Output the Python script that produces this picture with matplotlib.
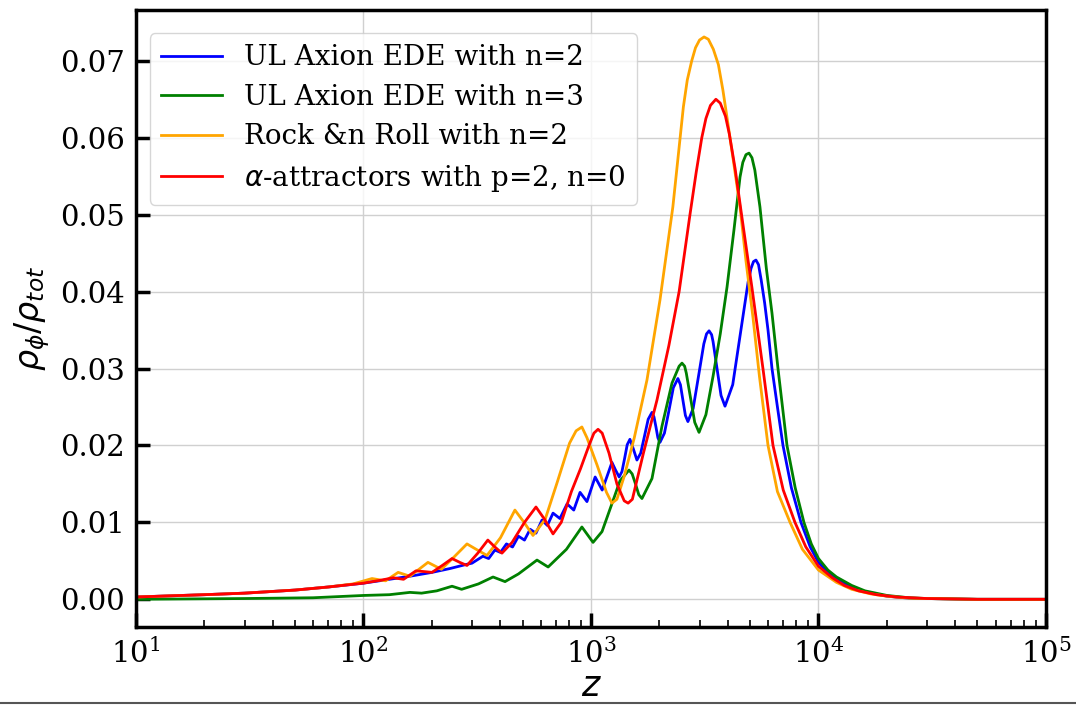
import numpy as np
import matplotlib
matplotlib.use("Agg")
import matplotlib.pyplot as plt
from matplotlib.lines import Line2D

# UL Axion EDE, n=2
z_ax2 = [10, 20, 30, 50, 70, 100, 130, 160, 200, 240, 280, 300,
         335, 355, 378, 400, 425, 452, 480, 510, 540, 573, 609, 643,
         681, 730, 785, 840, 895, 960, 1043, 1120, 1177, 1236, 1282, 1330,
         1368, 1405, 1443, 1483, 1537, 1592, 1654, 1718, 1784, 1854, 1892,
         1930, 1968, 2010, 2103, 2200, 2301, 2410, 2472, 2535, 2600, 2667,
         2812, 2969, 3133, 3220, 3304, 3390, 3440, 3581, 3729, 3882, 4198,
         4539, 4909, 5050, 5180, 5310, 5450, 5600, 5800, 6000, 6246, 6600,
         6982, 7600, 8375, 9200, 10000, 11000, 12000, 14000, 16000, 20000,
         25000, 30000, 50000, 100000]
y_ax2 = [0.0003, 0.0006, 0.0008, 0.0012, 0.0016, 0.0021, 0.0026, 0.0030, 0.0035, 0.0040, 0.0045, 0.0047,
         0.0056, 0.0053, 0.0064, 0.0061, 0.0072, 0.0068, 0.0082, 0.0077, 0.0091, 0.0086, 0.0103, 0.0096,
         0.0112, 0.0105, 0.0124, 0.0116, 0.0139, 0.0127, 0.0159, 0.0142, 0.0160, 0.0178, 0.0168, 0.0159,
         0.0166, 0.0183, 0.0201, 0.0208, 0.0195, 0.0181, 0.0190, 0.0212, 0.0234, 0.0243, 0.0237,
         0.0224, 0.0210, 0.0204, 0.0216, 0.0245, 0.0275, 0.0287, 0.0279, 0.0259, 0.0239, 0.0231,
         0.0248, 0.0290, 0.0332, 0.0345, 0.0349, 0.0344, 0.0335, 0.0300, 0.0265, 0.0251, 0.0279,
         0.0346, 0.0413, 0.0430, 0.0439, 0.0441, 0.0435, 0.0415, 0.0385, 0.0350, 0.0300, 0.0250,
         0.0200, 0.0145, 0.0100, 0.0068, 0.0048, 0.0035, 0.0027, 0.0016, 0.0010, 0.0004,
         0.00015, 0.0001, 0.0, 0.0]

# UL Axion EDE, n=3
z_ax3 = [10, 30, 60, 100, 130, 160, 180, 210, 245, 270, 320, 371, 419, 480,
         579, 648, 780, 912, 965, 1021, 1118, 1225, 1341, 1469, 1517, 1569,
         1622, 1675, 1854, 2051, 2270, 2440, 2512, 2580, 2624, 2738, 2858,
         2985, 3200, 3440, 3700, 3963, 4250, 4520, 4650, 4800, 4950, 5100,
         5250, 5530, 5900, 6246, 6637, 7270, 7900, 8630, 9300, 10000, 11000,
         12000, 14000, 16000, 20000, 25000, 30000, 50000, 100000]
y_ax3 = [0.0, 0.0001, 0.0002, 0.0005, 0.0006, 0.0009, 0.0008, 0.0011, 0.0017, 0.0013, 0.0020, 0.0029, 0.0023, 0.0033,
         0.0051, 0.0042, 0.0065, 0.0094, 0.0084, 0.0074, 0.0088, 0.0121, 0.0154, 0.0168, 0.0163, 0.0150,
         0.0136, 0.0131, 0.0157, 0.0225, 0.0281, 0.0303, 0.0307, 0.0303, 0.0294, 0.0262, 0.0230,
         0.0217, 0.0240, 0.0290, 0.0345, 0.0406, 0.0480, 0.0549, 0.0568, 0.0578, 0.0580, 0.0574,
         0.0558, 0.0510, 0.0430, 0.0372, 0.0300, 0.0200, 0.0145, 0.0100, 0.0072, 0.0053, 0.0038,
         0.0029, 0.0018, 0.0011, 0.0005, 0.0002, 0.0001, 0.0, 0.0]

# Rock 'n' Roll, n=2
z_rnr = [10, 20, 30, 50, 70, 90, 109, 125, 142, 160, 192, 220, 250, 285, 317, 349,
         400, 463, 508, 556, 629, 712, 805, 860, 912, 960, 1062, 1170, 1236,
         1300, 1400, 1550, 1762, 2010, 2290, 2547, 2650, 2772, 2880, 3000,
         3140, 3280, 3450, 3631, 3800, 3945, 4250, 4520, 4800, 5150, 5500,
         6000, 6600, 7500, 8500, 10000, 12000, 14000, 17000, 20000, 25000,
         30000, 50000, 100000]
y_rnr = [0.0003, 0.0006, 0.0008, 0.0012, 0.0016, 0.0020, 0.0027, 0.0024, 0.0035, 0.0030, 0.0048, 0.0039, 0.0055, 0.0072, 0.0064, 0.0057,
         0.0080, 0.0116, 0.0100, 0.0083, 0.0104, 0.0153, 0.0203, 0.0219, 0.0224, 0.0210, 0.0175, 0.0139, 0.0125,
         0.0130, 0.0160, 0.0210, 0.0285, 0.0389, 0.0510, 0.0640, 0.0675, 0.0700, 0.0717, 0.0727,
         0.0731, 0.0728, 0.0715, 0.0695, 0.0662, 0.0630, 0.0565, 0.0510, 0.0440, 0.0367, 0.0290,
         0.0200, 0.0140, 0.0100, 0.0065, 0.0038, 0.0022, 0.0013, 0.0007, 0.0004, 0.00015,
         0.0001, 0.0, 0.0]

# alpha-attractors, p=2, n=0
z_alp = [10, 20, 30, 50, 70, 100, 120, 135, 150, 170, 185, 200, 222, 245, 265, 285,
         318, 352, 378, 406, 450, 510, 573, 625, 681, 740, 820, 900, 980, 1030,
         1074, 1120, 1200, 1300, 1400, 1456, 1520, 1700, 1950, 2200, 2440, 2723,
         2900, 3069, 3200, 3350, 3540, 3700, 3900, 4055, 4300, 4590, 5100, 5700,
         6310, 7000, 7882, 8800, 10000, 11500, 13000, 15000, 18000, 22000, 30000,
         50000, 100000]
y_alp = [0.0003, 0.0006, 0.0008, 0.0012, 0.0016, 0.0021, 0.0025, 0.0028, 0.0026, 0.0037, 0.0036, 0.0035, 0.0044, 0.0053, 0.0048, 0.0044,
         0.0060, 0.0077, 0.0068, 0.0060, 0.0074, 0.0100, 0.0120, 0.0104, 0.0085, 0.0100, 0.0140, 0.0170, 0.0200, 0.0216,
         0.0221, 0.0216, 0.0190, 0.0150, 0.0128, 0.0125, 0.0130, 0.0190, 0.0259, 0.0330, 0.0400, 0.0500,
         0.0555, 0.0600, 0.0625, 0.0642, 0.0650, 0.0645, 0.0628, 0.0605, 0.0560, 0.0500, 0.0405, 0.0300,
         0.0200, 0.0142, 0.0100, 0.0068, 0.0043, 0.0028, 0.0018, 0.0011, 0.0006, 0.0003, 0.0001,
         0.0, 0.0]

plt.rcParams['font.family'] = 'DejaVu Serif'
plt.rcParams['mathtext.fontset'] = 'dejavusans'

fig = plt.figure(figsize=(10.76, 7.06), dpi=100)
ax = fig.add_axes([0.1264, 0.1119, 0.8457, 0.8739])

lw = 2.0
ax.plot(z_ax2, y_ax2, color='blue', lw=lw, label='UL Axion EDE with n=2')
ax.plot(z_ax3, y_ax3, color='green', lw=lw, label='UL Axion EDE with n=3')
ax.plot(z_rnr, y_rnr, color='orange', lw=lw, label='Rock &n Roll with n=2')
ax.plot(z_alp, y_alp, color='red', lw=lw, label=r'$\alpha$-attractors with p=2, n=0')

ax.set_xscale('log')
ax.set_xlim(10, 1e5)
ax.set_ylim(-0.0036, 0.0766)
ax.set_yticks(np.arange(0, 0.071, 0.01))
ax.yaxis.set_major_formatter(plt.FormatStrFormatter('%.2f'))

ax.grid(True, which='major', color='#d0d0d0', lw=1.0)
for s in ax.spines.values():
    s.set_linewidth(2.5)
ax.tick_params(which='major', direction='in', length=10, width=2.5, labelsize=21, pad=8)
ax.tick_params(which='minor', direction='in', length=5, width=1.2)

ax.set_xlabel(r'$z$', fontsize=25, labelpad=0)
ax.set_ylabel(r'$\rho_\phi/\rho_{tot}$', fontsize=24, labelpad=6)

ax.legend(loc='upper left', fontsize=20, handlelength=2.2, borderpad=0.4,
          labelspacing=0.45, bbox_to_anchor=(0.0, 0.985))

fig.add_artist(Line2D([0, 1], [0.004, 0.004], color='#555555', lw=1.5))

fig.savefig('out.png', dpi=100)
